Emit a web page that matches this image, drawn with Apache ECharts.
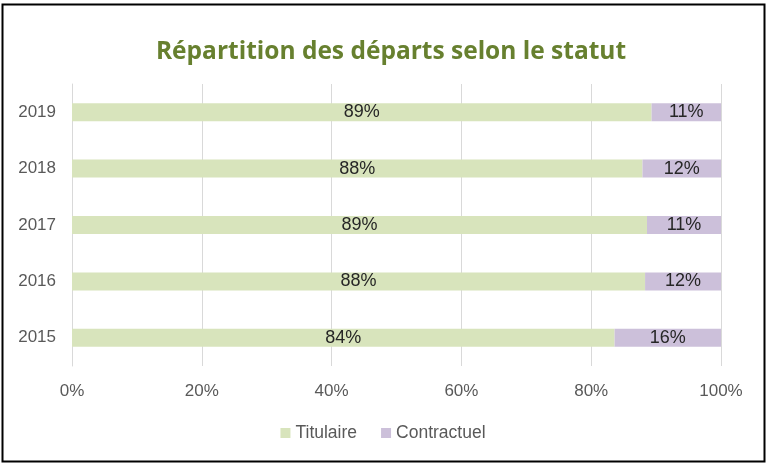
<!DOCTYPE html>
<html>
<head>
<meta charset="utf-8">
<script src="https://cdn.jsdelivr.net/npm/echarts@6/dist/echarts.min.js"></script>
<style>
html,body{margin:0;padding:0;background:#fff;}
#chart{width:766px;height:465px;}
</style>
</head>
<body>
<div id="chart"></div>
<script>
var years = ['2015', '2016', '2017', '2018', '2019'];
var titulaire = [83.6, 88.3, 88.6, 87.9, 89.3];
var contractuel = [16.4, 11.7, 11.4, 12.1, 10.7];
var xTicks = [0, 20, 40, 60, 80, 100];

var chart = echarts.init(document.getElementById('chart'));
var labelFont = 'Liberation Sans';
chart.setOption({
  animation: false,
  backgroundColor: '#ffffff',
  title: {
    text: 'Répartition des départs selon le statut',
    left: 386, top: 35, textAlign: 'center',
    textStyle: { color: '#67802F', fontSize: 24.5, fontWeight: 'bold', fontFamily: 'Open Sans' }
  },
  legend: {
    bottom: 18, left: 'center',
    itemWidth: 10, itemHeight: 10, itemGap: 24,
    icon: 'rect',
    textStyle: { color: '#595959', fontSize: 17.5, fontFamily: labelFont },
    data: ['Titulaire', 'Contractuel']
  },
  grid: { left: 72, right: 45, top: 84, bottom: 99, containLabel: false },
  xAxis: {
    type: 'value', min: 0, max: 100, interval: 20,
    axisLine: { show: false }, axisTick: { show: false },
    splitLine: { lineStyle: { color: '#D9D9D9', width: 1 } },
    axisLabel: { color: '#595959', fontSize: 17, fontFamily: labelFont, margin: 17,
      formatter: function (v) { return xTicks.indexOf(v) >= 0 ? v + '%' : ''; } }
  },
  yAxis: {
    type: 'category', data: years,
    axisLine: { show: true, lineStyle: { color: '#D9D9D9' } }, axisTick: { show: false },
    axisLabel: { color: '#595959', fontSize: 17, fontFamily: labelFont, margin: 16 }
  },
  series: [
    {
      name: 'Titulaire', type: 'bar', stack: 'total', data: titulaire, barWidth: 18,
      itemStyle: { color: '#D8E4BC' },
      label: { show: true, position: 'inside', color: '#262626', fontSize: 18, fontFamily: labelFont,
        formatter: function (p) { return Math.round(p.value) + '%'; } }
    },
    {
      name: 'Contractuel', type: 'bar', stack: 'total', data: contractuel, barWidth: 18,
      itemStyle: { color: '#CCC0DA' },
      label: { show: true, position: 'inside', color: '#262626', fontSize: 18, fontFamily: labelFont,
        formatter: function (p) { return Math.round(p.value) + '%'; } }
    }
  ],
  graphic: [{
    type: 'rect', z: 100,
    shape: { x: 2.5, y: 4.5, width: 762, height: 457 },
    style: { fill: 'none', stroke: '#000000', lineWidth: 2 }
  }]
});
</script>
</body>
</html>
